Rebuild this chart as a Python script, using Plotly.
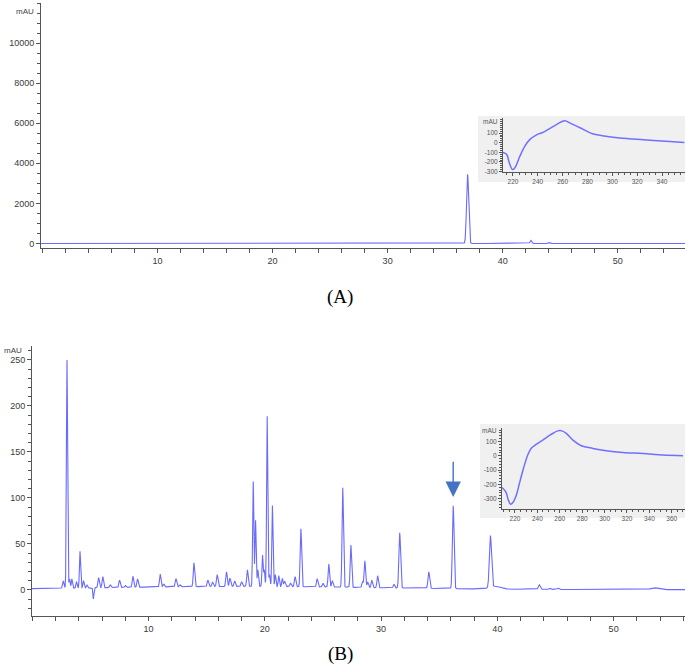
import numpy as np
import plotly.graph_objects as go

# ---------------- data ----------------
# Panel A chromatogram: peak table (retention time min, height mAU, width sigma min)
rt_A = [3.0, 5.5, 36.95, 40.8, 42.45, 44.05, 45.0]
h_A = [20, 15, 3450, 15, 150, 50, 10]
w_A = [0.05, 0.05, 0.09, 0.06, 0.07, 0.07, 0.07]

# Panel B chromatogram: peak table
rt_B = [2.66, 2.98, 3.2, 3.4, 3.8, 4.1, 4.4, 4.7, 5.25, 5.7, 6.06, 6.7, 7.5, 8.0,
        8.65, 9.05, 11.0, 11.3, 12.35, 12.7, 13.9, 15.1, 15.5, 15.9, 16.7, 17.0,
        17.4, 18.0, 18.5, 19.0, 19.2, 19.4, 19.8, 19.95, 20.2, 20.4, 20.65, 20.9,
        21.2, 21.5, 21.7, 22.2, 22.6, 23.1, 24.5, 25.0, 25.5, 25.8, 26.7, 27.4,
        28.4, 28.6, 28.85, 29.2, 29.7, 31.1, 31.6, 34.1, 36.2, 39.4, 39.8, 43.6,
        44.5, 45.2, 53.5, 18.0]
h_B = [8, 248, 10, 10, 7, 40, 8, 3, -12, 11, 12, 3, 8, 2,
       12, 9, 14, 3, 9, 2, 26, 7, 5, 13, 16, 9,
       6, 5, 18, 114, 72, 18, 34, 18, 185, 13, 88, 13,
       12, 9, 6, 4, 11, 63, 9, 4, 25, 7, 108, 46,
       6, 29, 6, 8, 13, 4, 60, 18, 90, 56, 3, 5,
       1.5, 1.5, 2, 3.5]
w_B = [0.06, 0.05, 0.05, 0.05, 0.05, 0.05, 0.05, 0.05, 0.04, 0.06, 0.06, 0.06, 0.06, 0.06,
       0.06, 0.06, 0.06, 0.06, 0.06, 0.06, 0.06, 0.06, 0.06, 0.06, 0.06, 0.06,
       0.06, 0.06, 0.06, 0.05, 0.05, 0.05, 0.05, 0.05, 0.05, 0.05, 0.05, 0.05,
       0.05, 0.05, 0.06, 0.06, 0.06, 0.06, 0.06, 0.06, 0.06, 0.06, 0.06, 0.06,
       0.06, 0.06, 0.06, 0.06, 0.06, 0.06, 0.07, 0.07, 0.07, 0.09, 0.45, 0.08,
       0.08, 0.08, 0.3, 12.0]

# Tick labels
xlab_main = [10, 20, 30, 40, 50]
ylab_A = [0, 2000, 4000, 6000, 8000, 10000]
ylab_B = [0, 50, 100, 150, 200, 250]
xlab_ins = [220, 240, 260, 280, 300, 320, 340, 360]
ylab_ins = [-300, -200, -100, 0, 100]

# Inset spectra (wavelength nm, mAU)
wl_A = [212, 215, 217, 219.7, 221.6, 225.6, 229.6, 233.7, 239, 244, 252.5, 258, 262,
        266, 274, 284, 292, 306, 325, 346, 358]
ab_A = [-100, -122, -206, -280, -260, -140, -35, 35, 83, 107, 170, 212, 229,
        205, 156, 94, 73, 49, 31, 14, 3]
wl_B = [208.4, 212, 214, 216, 218.3, 221.3, 224, 227.6, 231.4, 234.4, 238.9, 244.8,
        252.3, 258.2, 262, 265.8, 271.7, 279.2, 289.6, 301.5, 316.4, 334.3, 352, 370]
ab_B = [-223, -256, -309, -340, -326, -274, -193, -88, 5, 51, 79, 109,
        149, 174, 174, 156, 109, 70, 51, 35, 23, 16, 5, 0]

arrow_rt = 36.2
arrow_from = 141
arrow_to = 101

# ---------------- build traces ----------------
t = np.arange(-0.2, 56.4, 0.005)


def chrom(rt, h, w, base=0.0):
    y = np.full_like(t, base)
    for r, hh, ww in zip(rt, h, w):
        y = y + hh * np.exp(-0.5 * ((t - r) / ww) ** 2)
    return y


yA = chrom(rt_A, h_A, w_A)
yB = chrom(rt_B, h_B, w_B, base=0.3)

LINE = "#6a6aff"
AX = "#555555"
TF = dict(family="Liberation Sans, Arial, sans-serif", size=9, color="#3a3a3a")
TFS = dict(family="Liberation Sans, Arial, sans-serif", size=6.5, color="#555555")

fig = go.Figure()
fig.add_trace(go.Scatter(x=t, y=yA, mode="lines", line=dict(color=LINE, width=1.1),
                         xaxis="x", yaxis="y", hoverinfo="skip"))
fig.add_trace(go.Scatter(x=t, y=yB, mode="lines", line=dict(color=LINE, width=1.1),
                         xaxis="x2", yaxis="y2", hoverinfo="skip"))
fig.add_trace(go.Scatter(x=wl_A, y=ab_A, mode="lines", line=dict(color="#7070ff", width=1.5, shape="spline"),
                         xaxis="x3", yaxis="y3", hoverinfo="skip"))
fig.add_trace(go.Scatter(x=wl_B, y=ab_B, mode="lines", line=dict(color="#7070ff", width=1.5, shape="spline"),
                         xaxis="x4", yaxis="y4", hoverinfo="skip"))


def common(domain, rng, anchor, vals, font, tl):
    return dict(domain=domain, range=rng, anchor=anchor, showgrid=False, zeroline=False,
                automargin=False, showline=True, linecolor=AX, linewidth=1, ticks="outside",
                ticklen=tl, tickcolor=AX, tickmode="array", tickvals=vals,
                ticktext=[str(v) for v in vals], tickfont=font)


def main_x(domain, rng, anchor):
    d = common(domain, rng, anchor, xlab_main, TF, 4)
    d["minor"] = dict(dtick=2, tick0=0, ticks="outside", ticklen=4, tickcolor=AX)
    return d


def main_y(domain, rng, anchor, vals, mdt):
    d = common(domain, rng, anchor, vals, TF, 4)
    d["minor"] = dict(dtick=mdt, tick0=0, ticks="outside", ticklen=3, tickcolor=AX)
    return d


def ins_x(domain, rng, anchor):
    d = common(domain, rng, anchor, xlab_ins, TFS, 3)
    d["minor"] = dict(dtick=5, tick0=0, ticks="outside", ticklen=2, tickcolor=AX)
    return d


def ins_y(domain, rng, anchor):
    d = common(domain, rng, anchor, ylab_ins, TFS, 3)
    d["minor"] = dict(dtick=20, tick0=0, ticks="outside", ticklen=2, tickcolor=AX)
    return d


W, H = 685, 668


def px(v):
    return v / W


def py(v):
    return 1 - v / H


fig.update_layout(
    width=W, height=H, autosize=False,
    margin=dict(l=0, r=0, t=0, b=0, pad=0),
    paper_bgcolor="white", plot_bgcolor="rgba(0,0,0,0)",
    showlegend=False,
    xaxis=main_x([px(41), 1], [-0.13, 55.85], "y"),
    yaxis=main_y([py(248), py(3)], [-224, 12000], "x", ylab_A, 500),
    xaxis2=main_x([px(32), 1], [-0.03, 56.14], "y2"),
    yaxis2=main_y([py(616), py(346)], [-28.3, 265], "x2", ylab_B, 10),
    xaxis3=ins_x([px(503), 1], [212, 358.5], "y3"),
    yaxis3=ins_y([py(172), py(118)], [-305, 258], "x3"),
    xaxis4=ins_x([px(502), 1], [208.4, 371.8], "y4"),
    yaxis4=ins_y([py(509), py(428)], [-373, 194], "x4"),
    shapes=[
        dict(type="rect", xref="paper", yref="paper", x0=px(478), x1=1, y0=py(182), y1=py(116),
             fillcolor="#f0f0f0", line=dict(width=0), layer="below"),
        dict(type="rect", xref="paper", yref="paper", x0=px(480), x1=1, y0=py(518), y1=py(424),
             fillcolor="#f0f0f0", line=dict(width=0), layer="below"),
    ],
    annotations=[
        dict(text="mAU", xref="paper", yref="paper", x=px(36), y=py(11), xanchor="right", yanchor="middle",
             showarrow=False, font=dict(family="Liberation Sans, Arial, sans-serif", size=8, color="#444")),
        dict(text="mAU", xref="paper", yref="paper", x=px(24), y=py(351), xanchor="right", yanchor="middle",
             showarrow=False, font=dict(family="Liberation Sans, Arial, sans-serif", size=8, color="#444")),
        dict(text="mAU", xref="paper", yref="paper", x=px(500), y=py(121), xanchor="right", yanchor="middle",
             showarrow=False, font=TFS),
        dict(text="mAU", xref="paper", yref="paper", x=px(499), y=py(430), xanchor="right", yanchor="middle",
             showarrow=False, font=TFS),
        dict(text="(A)", xref="paper", yref="paper", x=px(340), y=py(297), xanchor="center", yanchor="middle",
             showarrow=False, font=dict(family="Liberation Serif, DejaVu Serif, serif", size=19, color="black")),
        dict(text="(B)", xref="paper", yref="paper", x=px(340), y=py(654), xanchor="center", yanchor="middle",
             showarrow=False, font=dict(family="Liberation Serif, DejaVu Serif, serif", size=19, color="black")),
        dict(text="", x=arrow_rt, y=arrow_to, xref="x2", yref="y2", ax=arrow_rt, ay=arrow_from,
             axref="x2", ayref="y2", showarrow=True, arrowhead=2, arrowsize=2.2, arrowwidth=1.4,
             arrowcolor="#4472c4"),
    ],
)

fig.write_html("out.html", config={"displayModeBar": False},
               post_script="document.body.style.margin='0';document.body.style.overflow='hidden';")
